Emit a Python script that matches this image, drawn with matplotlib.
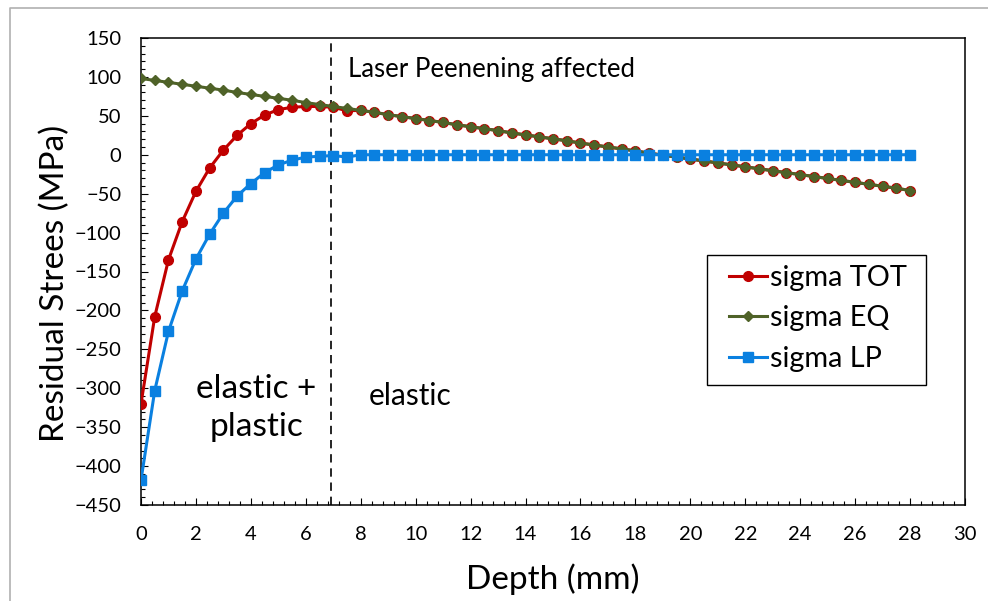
import numpy as np
import matplotlib
matplotlib.use("Agg")
import matplotlib.pyplot as plt
from matplotlib.lines import Line2D
from matplotlib.patches import Rectangle
from matplotlib.ticker import MultipleLocator

plt.rcParams['font.family'] = ['Lato', 'DejaVu Sans']

# ─── DATA ───────────────────────────────────────────────────────────────────
depth = np.arange(0, 28.5, 0.5)

sigma_tot = [-320, -208, -135, -86, -47, -17, 6, 25, 40, 51,
             58, 61, 62, 62, 61, 56.5, 57, 54.5, 51.5, 49,
             46.5, 44, 41.5, 38.5, 36, 33.5, 31, 28, 25.5, 23,
             20.5, 18, 15, 12.5, 10, 7.5, 5, 2, -0.5, -3,
             -5.5, -8, -10.5, -13, -15.5, -18, -20.5, -23, -25.5, -28,
             -30.5, -33, -35.5, -38, -40.5, -43, -46]

sigma_eq = [98, 95.5, 93, 90.5, 88, 85.5, 83, 80, 77.5, 75,
            72.5, 70, 67, 64.5, 62, 59.5, 57, 54.5, 51.5, 49,
            46.5, 44, 41.5, 38.5, 36, 33.5, 31, 28, 25.5, 23,
            20.5, 18, 15, 12.5, 10, 7.5, 5, 2, -0.5, -3,
            -5.5, -8, -10.5, -13, -15.5, -18, -20.5, -23, -25.5, -28,
            -30.5, -33, -35.5, -38, -40.5, -43, -46]

sigma_lp = [-418, -303, -227, -175, -134, -102, -75, -53, -37, -23,
            -13, -7, -3, -2, -1, -3] + [0] * 41

lp_boundary = 6.9

# ─── PLOT ───────────────────────────────────────────────────────────────────
fig = plt.figure(figsize=(9.88, 6.01), dpi=100)
ax = fig.add_axes([141/988, 1 - 505/601, 824/988, 467/601])

ax.plot(depth, sigma_tot, color="#C00000", lw=2.2, marker="o", ms=7,
        label="sigma TOT", zorder=3)
ax.plot(depth, sigma_eq, color="#4F6228", lw=2.2, marker="D", ms=5.2,
        label="sigma EQ", zorder=4)
ax.plot(depth, sigma_lp, color="#0A80E0", lw=2.2, marker="s", ms=6.5,
        label="sigma LP", zorder=5)

ax.axvline(lp_boundary, color="black", lw=1.2, ls=(0, (5, 3.5)), zorder=2)

ax.set_xlim(0, 30); ax.set_ylim(-450, 150)
ax.xaxis.set_major_locator(MultipleLocator(2))
ax.xaxis.set_minor_locator(MultipleLocator(0.4))
ax.yaxis.set_major_locator(MultipleLocator(50))
ax.yaxis.set_minor_locator(MultipleLocator(10))
ax.tick_params(which="both", direction="in", width=0.8, labelsize=14.5)
ax.tick_params(which="major", length=5)
ax.tick_params(which="minor", length=3)
ax.tick_params(axis="y", which="both", pad=14)
ax.tick_params(axis="x", which="both", pad=15)
for s in ax.spines.values():
    s.set_linewidth(1.1)

ax.set_xlabel("Depth (mm)", fontsize=24)
ax.set_ylabel("Residual Strees (MPa)", fontsize=24)
ax.xaxis.set_label_coords(0.5, -0.125)
ax.yaxis.set_label_coords(-0.086, 0.475)

ax.text(7.54, 109, "Laser Peenening affected", fontsize=18.5, va="center")
ax.text(4.2, -325, "elastic +\nplastic", fontsize=24, ha="center",
        va="center", linespacing=1.35)
ax.text(9.8, -310, "elastic", fontsize=21.5, ha="center", va="center")

# legend box drawn separately so its padding can be wider than tall
fig.add_artist(Rectangle((707/988, 1 - 385/601), 219/988, 130/601,
                         transform=fig.transFigure, facecolor="white",
                         edgecolor="black", lw=1.0, zorder=6))
leg = ax.legend(loc="upper left", bbox_to_anchor=(729/988, 1 - 265/601),
                bbox_transform=fig.transFigure, fontsize=20.8, frameon=False,
                handlelength=1.33, handletextpad=0.08, labelspacing=0.5,
                borderpad=0, borderaxespad=0)
leg.set_zorder(7)
leg.remove()
fig.add_artist(leg)

# chart-area border (grey, Excel style)
fig.add_artist(Line2D([10/988, 10/988, 1.0], [0.0, 1 - 8/601, 1 - 8/601],
                      transform=fig.transFigure, color="#B0B0B0", lw=1.2))

fig.savefig("out.png", dpi=100)
